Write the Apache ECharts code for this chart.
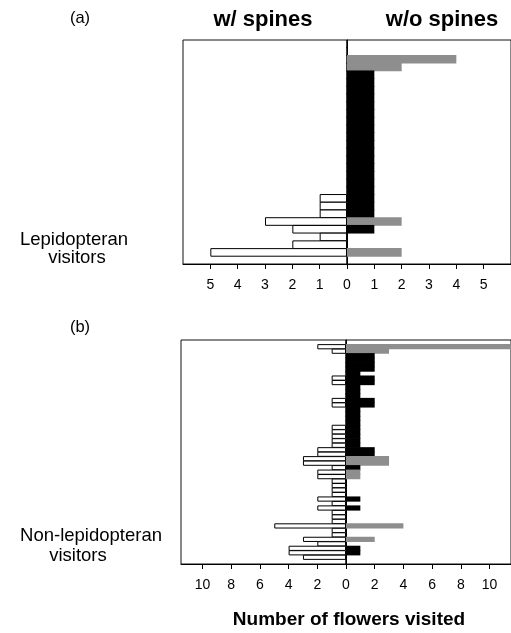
<!DOCTYPE html>
<html>
<head>
<meta charset="utf-8">
<script src="https://cdn.jsdelivr.net/npm/echarts@6/dist/echarts.min.js"></script>
<style>
  html, body { margin: 0; padding: 0; background: #fff; }
  #chart { width: 511px; height: 633px; }
</style>
</head>
<body>
<div id="chart"></div>
<script>
// (a) Lepidopteran visitors, one row per category, top to bottom
const aWith = [0, 0, 0, 0, 0, 0, 0, 0, 0, 0, 0, 0, 0, 0, 0, 0, 0, 0, 0, 0, 1, 1, 1, 3, 2, 1, 2, 5, 0]
const aWithout = [0, 0, 4, 2, 1, 1, 1, 1, 1, 1, 1, 1, 1, 1, 1, 1, 1, 1, 1, 1, 1, 1, 1, 2, 1, 0, 0, 2, 0]
const aGrayRows = [2, 3, 23, 27]
const aTicks = [-5, -4, -3, -2, -1, 0, 1, 2, 3, 4, 5]

// (b) Non-lepidopteran visitors
const bWith = [0, 2, 1, 0, 0, 0, 0, 0, 1, 1, 0, 0, 0, 1, 1, 0, 0, 0, 0, 1, 1, 1, 1, 1, 2,
  2, 3, 3, 1, 2, 2, 1, 1, 1, 1, 2, 1, 2, 1, 1, 1, 5, 1, 1, 3, 2, 4, 4, 3, 0]
const bWithout = [0, 12, 3, 2, 2, 2, 2, 1, 2, 2, 1, 1, 1, 2, 2, 1, 1, 1, 1, 1, 1, 1, 1, 1, 2,
  2, 3, 3, 1, 1, 1, 0, 0, 0, 0, 1, 0, 1, 0, 0, 0, 4, 0, 0, 2, 0, 1, 1, 0, 0]
const bGrayRows = [1, 2, 26, 27, 29, 30, 41, 44]
const bTicks = [-10, -8, -6, -4, -2, 0, 2, 4, 6, 8, 10]

const FONT = '"Liberation Sans", Arial, sans-serif'
const GRAY = '#8e8e8e'

function rowNames(n) {
  return Array.from({ length: n }, (_, i) => String(i + 1))
}

function xAxisFor(idx, min, max, ticks) {
  return {
    gridIndex: idx,
    type: 'value',
    min: min,
    max: max,
    axisLine: { show: true, onZero: false, lineStyle: { color: '#000', width: 1 } },
    axisTick: { show: true, length: 5, customValues: ticks, lineStyle: { color: '#000' } },
    axisLabel: {
      customValues: ticks,
      formatter: v => String(Math.abs(v)),
      margin: 14,
      color: '#000',
      fontSize: 14,
      fontFamily: FONT
    },
    splitLine: { show: false },
    splitArea: { show: false }
  }
}

function yAxisFor(idx, n) {
  return {
    gridIndex: idx,
    type: 'category',
    inverse: true,
    data: rowNames(n),
    axisLine: { show: true, onZero: true, lineStyle: { color: '#000', width: 1 } },
    axisTick: { show: false },
    axisLabel: { show: false },
    splitLine: { show: false },
    splitArea: { show: false }
  }
}

// bars are a touch wider than a row so neighbouring rows join without seams
function seriesFor(idx, withVals, withoutVals, grayRows, rowPx) {
  return [{
    type: 'bar',
    xAxisIndex: idx,
    yAxisIndex: idx,
    stack: 'p' + idx,
    barWidth: rowPx,
    data: withVals.map(v => -v),
    itemStyle: { color: '#fff', borderColor: '#000', borderWidth: 1 },
    silent: true
  }, {
    type: 'bar',
    xAxisIndex: idx,
    yAxisIndex: idx,
    stack: 'p' + idx,
    barWidth: rowPx,
    data: withoutVals.map((v, i) => ({
      value: v,
      itemStyle: { color: grayRows.includes(i) ? GRAY : '#000' }
    })),
    silent: true
  }]
}

function label(text, x, y, size, bold) {
  return {
    type: 'text',
    x: x,
    y: y,
    style: {
      text: text,
      fill: '#000',
      font: (bold ? 'bold ' : '') + size + 'px ' + FONT,
      align: 'center',
      verticalAlign: 'middle'
    }
  }
}

const chart = echarts.init(document.getElementById('chart'), null, { renderer: 'canvas' })
chart.setOption({
  backgroundColor: '#fff',
  animation: false,
  grid: [
    { left: 183, top: 40, width: 336, height: 224, show: true, borderColor: '#111', borderWidth: 1 },
    { left: 181, top: 340, width: 336, height: 224, show: true, borderColor: '#111', borderWidth: 1 }
  ],
  xAxis: [xAxisFor(0, -6, 6, aTicks), xAxisFor(1, -11.5, 11.5, bTicks)],
  yAxis: [yAxisFor(0, aWith.length), yAxisFor(1, bWith.length)],
  series: seriesFor(0, aWith, aWithout, aGrayRows, 8.6)
    .concat(seriesFor(1, bWith, bWithout, bGrayRows, 5.2)),
  graphic: [
    label('(a)', 80, 18, 16.5, false),
    label('(b)', 80, 327, 16.5, false),
    label('w/ spines', 263, 20, 22, true),
    label('w/o spines', 442, 20, 22, true),
    label('Lepidopteran', 74, 240, 18.5, false),
    label('visitors', 77, 258, 18.5, false),
    label('Non-lepidopteran', 91, 536, 18.5, false),
    label('visitors', 78, 556, 18.5, false),
    label('Number of flowers visited', 349, 620, 19, true)
  ]
})
</script>
</body>
</html>
